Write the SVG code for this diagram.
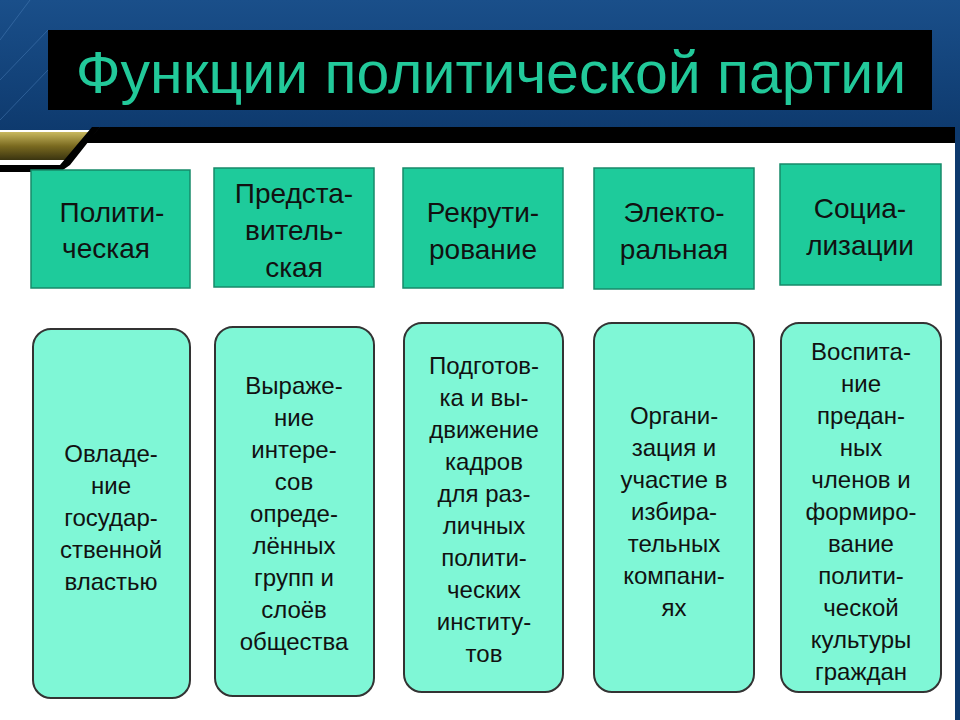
<svg xmlns="http://www.w3.org/2000/svg" width="960" height="720" viewBox="0 0 960 720">
<defs>
<linearGradient id="bg" x1="0" y1="0" x2="0" y2="1"><stop offset="0" stop-color="#1a4f8a"/><stop offset="1" stop-color="#0e3a6e"/></linearGradient>
<linearGradient id="gold" x1="0" y1="0" x2="0" y2="1"><stop offset="0" stop-color="#c8b860"/><stop offset="0.5" stop-color="#7a6a20"/><stop offset="1" stop-color="#3a3410"/></linearGradient>
<style>
.top{fill:#1ecb9b;stroke:#178a6a;stroke-width:1.5}
.bot{fill:#7ff7d6;stroke:#333;stroke-width:2}
text{font-family:"Liberation Sans",Arial,sans-serif;font-size:24px;fill:#111;text-anchor:middle}
.h{font-size:28px}
</style>
</defs>
<rect width="960" height="720" fill="#fff"/>
<rect width="960" height="130" fill="url(#bg)"/>
<g stroke="#4a7fb8" stroke-width="1" opacity="0.5">
<line x1="0" y1="40" x2="30" y2="0"/><line x1="0" y1="80" x2="48" y2="30"/><line x1="0" y1="120" x2="48" y2="70"/>
</g>
<polygon points="100,127 960,127 960,143 85,143" fill="#000"/>
<polygon points="0,132 92,132 70,160 0,160" fill="url(#gold)"/>
<polygon points="92,127 100,127 70,165 60,172 0,172 0,165 60,165" fill="#000"/>
<rect x="955" y="127" width="5" height="593" fill="#0e3a6e"/>
<g id="title">
<rect x="48" y="30" width="884" height="80" fill="#000"/>
<text x="491" y="93" style="font-size:59px;fill:#22c99a">Функции политической партии</text>
</g>
<g id="t1"><rect class="top" x="31" y="170" width="159" height="118"/><text class="h" x="112" y="222">Полити-</text><text class="h" x="106" y="258">ческая</text></g>
<g id="t2"><rect class="top" x="214" y="168" width="160" height="119"/><text class="h" x="294" y="203">Предста-</text><text class="h" x="294" y="240">витель-</text><text class="h" x="294" y="277">ская</text></g>
<g id="t3"><rect class="top" x="403" y="168" width="160" height="120"/><text class="h" x="483" y="222">Рекрути-</text><text class="h" x="483" y="259">рование</text></g>
<g id="t4"><rect class="top" x="594" y="168" width="160" height="121"/><text class="h" x="674" y="222">Электо-</text><text class="h" x="674" y="259">ральная</text></g>
<g id="t5"><rect class="top" x="780" y="164" width="161" height="121"/><text class="h" x="860" y="218">Социа-</text><text class="h" x="860" y="255">лизации</text></g>
<g id="b1"><rect class="bot" x="33" y="329" width="157" height="369" rx="18"/>
<text x="111" y="462">Овладе-</text><text x="111" y="494">ние</text><text x="111" y="526">государ-</text><text x="111" y="558">ственной</text><text x="111" y="590">властью</text></g>
<g id="b2"><rect class="bot" x="215" y="327" width="159" height="369" rx="18"/>
<text x="294" y="394">Выраже-</text><text x="294" y="426">ние</text><text x="294" y="458">интере-</text><text x="294" y="490">сов</text><text x="294" y="522">опреде-</text><text x="294" y="554">лённых</text><text x="294" y="586">групп и</text><text x="294" y="618">слоёв</text><text x="294" y="650">общества</text></g>
<g id="b3"><rect class="bot" x="404" y="323" width="159" height="369" rx="18"/>
<text x="484" y="374">Подготов-</text><text x="484" y="406">ка и вы-</text><text x="484" y="438">движение</text><text x="484" y="470">кадров</text><text x="484" y="502">для раз-</text><text x="484" y="534">личных</text><text x="484" y="566">полити-</text><text x="484" y="598">ческих</text><text x="484" y="630">институ-</text><text x="484" y="662">тов</text></g>
<g id="b4"><rect class="bot" x="594" y="323" width="160" height="369" rx="18"/>
<text x="674" y="424">Органи-</text><text x="674" y="456">зация и</text><text x="674" y="488">участие в</text><text x="674" y="520">избира-</text><text x="674" y="552">тельных</text><text x="674" y="584">компани-</text><text x="674" y="616">ях</text></g>
<g id="b5"><rect class="bot" x="781" y="323" width="160" height="369" rx="18"/>
<text x="861" y="360">Воспита-</text><text x="861" y="392">ние</text><text x="861" y="424">предан-</text><text x="861" y="456">ных</text><text x="861" y="488">членов и</text><text x="861" y="520">формиро-</text><text x="861" y="552">вание</text><text x="861" y="584">полити-</text><text x="861" y="616">ческой</text><text x="861" y="648">культуры</text><text x="861" y="680">граждан</text></g>
<g id="connectors"/>
</svg>
